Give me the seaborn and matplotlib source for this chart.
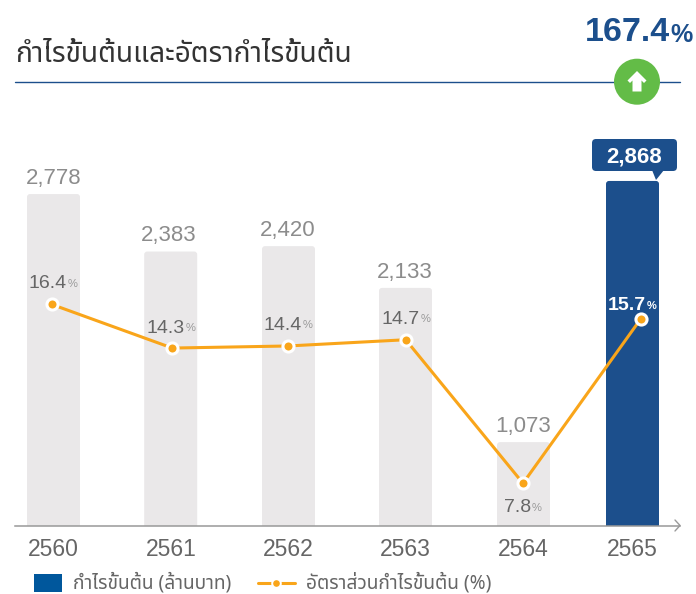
import matplotlib
matplotlib.use("Agg")
import matplotlib.pyplot as plt
import matplotlib.patches as mpatches
from matplotlib.legend_handler import HandlerPatch, HandlerBase
from matplotlib.lines import Line2D
import pandas as pd
import seaborn as sns

# ---- data ----
years = ["2560", "2561", "2562", "2563", "2564", "2565"]
gross_profit = [2778, 2383, 2420, 2133, 1073, 2868]
gross_margin = [16.4, 14.3, 14.4, 14.7, 7.8, 15.7]
title_text = "กำไรขั้นต้นและอัตรากำไรขั้นต้น"
legend_bar = "กำไรขั้นต้น (ล้านบาท)"
legend_line = "อัตราส่วนกำไรขั้นต้น (%)"
change_text = "167.4"

# ---- layout (pixels of the 696x594 canvas) ----
W, H = 696, 594
bar_x = [53.5, 170.7, 288.5, 405.5, 523.5, 632.5]
tick_x = [53.5, 171.7, 288.5, 405.7, 523.2, 632]
line_x = [51.7, 172.3, 288, 405.7, 523, 640.7]
value_label_x = [53.5, 168.7, 288, 405, 523, 634.5]
pct_right_x = [67, 185, 302, 420, 531, 646]
pct_label_y = [282, 326, 323, 317, 506, 304]
AX_L, AX_R, AX_B, AX_T = 15, 680, 525.5, 130

GREY = "#eae8e9"
NAVY = "#1c4f8c"
ORANGE = "#f9a51a"
THAI = ["Noto Sans Thai", "Liberation Sans"]

sns.set_theme(style="white")
plt.rcParams["font.family"] = ["Liberation Sans", "Noto Sans Thai"]

fig = plt.figure(figsize=(W / 100, H / 100), dpi=100, facecolor="white")
ax = fig.add_axes([AX_L / W, 1 - AX_B / H, (AX_R - AX_L) / W, (AX_B - AX_T) / H])


def fx(px):
    return px / W


def fy(py):
    return 1 - py / H


# bars
df = pd.DataFrame({"year": years, "x": bar_x, "profit": gross_profit})
sns.barplot(data=df, x="x", y="profit", hue="year", native_scale=True, dodge=False,
            palette=[GREY] * 5 + [NAVY], width=53 / 109, legend=False, ax=ax, saturation=1)
PX_PER_UNIT = 0.1455
BASE = 500
ax.set_xlim(AX_L, AX_R)
ax.set_ylim(BASE, BASE + (AX_B - AX_T) / PX_PER_UNIT)

# rounded tops: swap each bar for a rounded box of the same geometry
for p in list(ax.patches):
    box = mpatches.FancyBboxPatch(
        (p.get_x(), p.get_y()), p.get_width(), p.get_height(),
        boxstyle="round,pad=0,rounding_size=3", mutation_aspect=1 / PX_PER_UNIT,
        facecolor=p.get_facecolor(), edgecolor="none", zorder=p.get_zorder())
    p.set_visible(False)
    ax.add_patch(box)

ax.set_xticks(tick_x)
ax.set_xticklabels(years, fontsize=16.5, color="#666666")
ax.set_yticks([])
ax.set_xlabel("")
ax.set_ylabel("")
ax.tick_params(axis="x", length=0, pad=9)
for s in ["top", "left", "right"]:
    ax.spines[s].set_visible(False)
ax.spines["bottom"].set_color("#999999")
ax.spines["bottom"].set_linewidth(1.1)

# value labels
for i, v in enumerate(gross_profit):
    if i == 5:
        continue
    ax.annotate(f"{v:,}", (value_label_x[i], v), xytext=(0, 13), textcoords="offset points",
                ha="center", va="center_baseline", fontsize=16, color="#8c8c8c")

# margin line on its own axis
ax2 = ax.twinx()
PX_PER_PCT = 20.8
P0 = 120 / PX_PER_PCT
ax2.set_ylim(P0, P0 + (AX_B - AX_T) / PX_PER_PCT)
ax2.set_yticks([])
ax2.patch.set_visible(False)
for s in ax2.spines.values():
    s.set_visible(False)
sns.lineplot(x=line_x, y=gross_margin, sort=False, color=ORANGE, linewidth=2.2, marker="o",
             markersize=8, markeredgecolor="white", markeredgewidth=2.2, ax=ax2, legend=False,
             errorbar=None, zorder=4)
ax2.set_xlim(AX_L, AX_R)
ax2.set_ylabel("")

for i, m in enumerate(gross_margin):
    last = i == 5
    ypos = fy(pct_label_y[i])
    fig.text(fx(pct_right_x[i]), ypos, f"{m}", ha="right", va="center_baseline", fontsize=14,
             color="white" if last else "#666666", fontweight="bold" if last else "normal", zorder=6)
    fig.text(fx(pct_right_x[i]) + 0.001, ypos - 0.002, "%", ha="left", va="center_baseline", fontsize=8,
             color="white" if last else "#999999", fontweight="bold" if last else "normal", zorder=6)

# axis arrow head
fig.add_artist(Line2D([fx(675), fx(680), fx(675)], [fy(520), fy(525.5), fy(531)], color="#999999", lw=1.0))

# title + rule
fig.text(fx(15), fy(52), title_text, family=THAI, fontsize=20.2, color="#333333", ha="left", va="center_baseline")
fig.add_artist(Line2D([fx(15), fx(680)], [fy(81.5), fy(81.5)], color=NAVY, lw=1.0))

# headline change
fig.text(fx(670), fy(29), change_text, ha="right", va="center_baseline", fontsize=24.5, fontweight="bold", color=NAVY)
fig.text(fx(670), fy(32), "%", ha="left", va="center_baseline", fontsize=18, fontweight="bold", color=NAVY)

# green badge (aspect is 1:1 in figure pixels through a pixel transform)
px_tf = matplotlib.transforms.Affine2D().scale(1, -1).translate(0, H)
fig.add_artist(mpatches.Circle((637, 81.7), 23, facecolor="#63bc47", edgecolor="none", transform=px_tf, zorder=3))
fig.add_artist(mpatches.Polygon(
    [(637, 71), (646.5, 80.5), (644, 83), (641.5, 80.5), (641.5, 91.5), (632.5, 91.5),
     (632.5, 80.5), (630, 83), (627.5, 80.5)], closed=True, facecolor="white", edgecolor="none",
    transform=px_tf, zorder=4))

# callout for the last bar
fig.add_artist(mpatches.FancyBboxPatch((592, 139), 85, 32, boxstyle="round,pad=0,rounding_size=4",
                                       facecolor=NAVY, edgecolor="none", transform=px_tf, zorder=3))
fig.add_artist(mpatches.Polygon([(652, 170), (664, 170), (656, 180)], closed=True, facecolor=NAVY,
                                edgecolor="none", transform=px_tf, zorder=3))
fig.text(fx(634.5), fy(155), f"{gross_profit[5]:,}", ha="center", va="center_baseline", fontsize=16,
         fontweight="bold", color="white", zorder=5)


# legend
def swatch(legend, orig_handle, xdescent, ydescent, width, height, fontsize):
    return mpatches.Rectangle((-xdescent, -ydescent + height / 2 - 7), 20.2, 13)


class WideLine(HandlerBase):
    """Line key that overhangs the narrow key box, with a dot in its middle."""

    def create_artists(self, legend, orig_handle, xdescent, ydescent, width, height, fontsize, trans):
        y = height / 2 - ydescent - 0.5
        line = Line2D([-6.5, 20.2], [y, y], color=ORANGE, lw=2.2, transform=trans)
        dot = Line2D([6.8], [y], marker="o", markersize=6.2, markerfacecolor=ORANGE,
                     markeredgecolor="white", markeredgewidth=1.4, linestyle="none", transform=trans)
        return [line, dot]


bar_handle = mpatches.Patch(facecolor="#00579c", edgecolor="none", label=legend_bar)
line_handle = Line2D([], [], color=ORANGE, lw=2.2, marker="o", label=legend_line)
leg = fig.legend(handles=[bar_handle, line_handle],
                 handler_map={mpatches.Patch: HandlerPatch(patch_func=swatch), Line2D: WideLine()},
                 loc="center left", bbox_to_anchor=(fx(34), fy(583.5)), bbox_transform=fig.transFigure,
                 ncol=2, frameon=False, prop={"family": THAI, "size": 13.8}, borderpad=0,
                 borderaxespad=0, handlelength=1.464, handletextpad=0.574, columnspacing=1.85)
for t in leg.get_texts():
    t.set_color("#666666")

fig.savefig("out.png", dpi=100)
